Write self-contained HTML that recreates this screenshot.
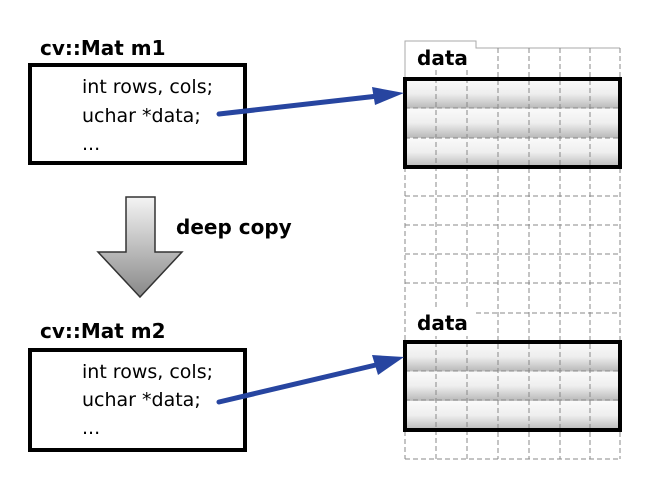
<!DOCTYPE html>
<html><head><meta charset="utf-8"><style>
html,body{margin:0;padding:0;background:#fff;width:647px;height:502px;overflow:hidden}
text{font-family:"DejaVu Sans","Liberation Sans",sans-serif}
</style></head><body>
<svg width="647" height="502" viewBox="0 0 647 502" xmlns="http://www.w3.org/2000/svg">
<defs>
<linearGradient id="cell" x1="0" y1="0" x2="0" y2="1">
<stop offset="0" stop-color="#fafafa"/><stop offset="0.5" stop-color="#eeeeee"/><stop offset="1" stop-color="#b8b8b8"/>
</linearGradient>
<linearGradient id="arr" x1="0" y1="0" x2="0" y2="1">
<stop offset="0" stop-color="#f4f4f4"/><stop offset="1" stop-color="#888"/>
</linearGradient>
<pattern id="rows" x="405" y="79" width="215" height="29.4" patternUnits="userSpaceOnUse">
<rect width="215" height="29.4" fill="url(#cell)"/>
</pattern>
<pattern id="rows2" x="405" y="342" width="215" height="29.4" patternUnits="userSpaceOnUse">
<rect width="215" height="29.4" fill="url(#cell)"/>
</pattern>
</defs>
<!-- tab -->
<path d="M405 79 V41 H476 V48 H620" fill="none" stroke="#aaa" stroke-width="1"/>
<!-- filled boxes -->
<rect x="405" y="79" width="215" height="88" fill="url(#rows)"/>
<rect x="405" y="342" width="215" height="88" fill="url(#rows2)"/>
<!-- dashed grid -->
<g stroke="#888" stroke-width="1" stroke-dasharray="5,3" fill="none">
<line x1="405" y1="79" x2="405" y2="459"/>
<line x1="436" y1="62" x2="436" y2="459"/>
<line x1="467" y1="62" x2="467" y2="459"/>
<line x1="498" y1="48" x2="498" y2="459"/>
<line x1="529" y1="48" x2="529" y2="459"/>
<line x1="560" y1="48" x2="560" y2="459"/>
<line x1="590" y1="48" x2="590" y2="459"/>
<line x1="620" y1="48" x2="620" y2="459"/>
<line x1="405" y1="108" x2="620" y2="108"/>
<line x1="405" y1="138" x2="620" y2="138"/>
<line x1="405" y1="196" x2="620" y2="196"/>
<line x1="405" y1="225" x2="620" y2="225"/>
<line x1="405" y1="254" x2="620" y2="254"/>
<line x1="405" y1="283" x2="620" y2="283"/>
<line x1="476" y1="313" x2="620" y2="313"/>
<line x1="405" y1="371" x2="620" y2="371"/>
<line x1="405" y1="400" x2="620" y2="400"/>
<line x1="405" y1="459" x2="620" y2="459"/>
</g>
<rect x="405" y="79" width="215" height="88" fill="none" stroke="#000" stroke-width="4"/>
<rect x="405" y="342" width="215" height="88" fill="none" stroke="#000" stroke-width="4"/>
<rect x="416" y="44" width="56" height="26" fill="#fff"/>
<text x="417" y="65" font-size="20" font-weight="bold">data</text>
<rect x="416" y="310" width="56" height="26" fill="#fff"/>
<text x="417" y="330" font-size="20" font-weight="bold">data</text>

<!-- left boxes -->
<text x="40" y="55" font-size="20" font-weight="bold">cv::Mat m1</text>
<rect x="30" y="65" width="215" height="98" fill="#fff" stroke="#000" stroke-width="4"/>
<g font-size="19"><text x="82" y="93">int rows, cols;</text><text x="82" y="122">uchar *data;</text><text x="82" y="150">...</text></g>
<text x="40" y="338" font-size="20" font-weight="bold">cv::Mat m2</text>
<rect x="30" y="350" width="215" height="100" fill="#fff" stroke="#000" stroke-width="4"/>
<g font-size="19"><text x="82" y="378">int rows, cols;</text><text x="82" y="406">uchar *data;</text><text x="82" y="434">...</text></g>

<!-- blue arrows -->
<g stroke="#2745a0" stroke-width="5" stroke-linecap="round" fill="#2745a0">
<line x1="219" y1="114" x2="378" y2="96"/>
<line x1="219" y1="402" x2="380" y2="364"/>
</g>
<polygon points="404,93 372,87 375,105" fill="#2745a0"/>
<polygon points="404,357 372,355 378,375" fill="#2745a0"/>

<!-- deep copy arrow -->
<path d="M126 197 H155 V252 H182 L140 297 L98 252 H126 Z" fill="url(#arr)" stroke="#333" stroke-width="1.5"/>
<text x="176" y="234" font-size="20" font-weight="bold">deep copy</text>
</svg>
</body></html>
